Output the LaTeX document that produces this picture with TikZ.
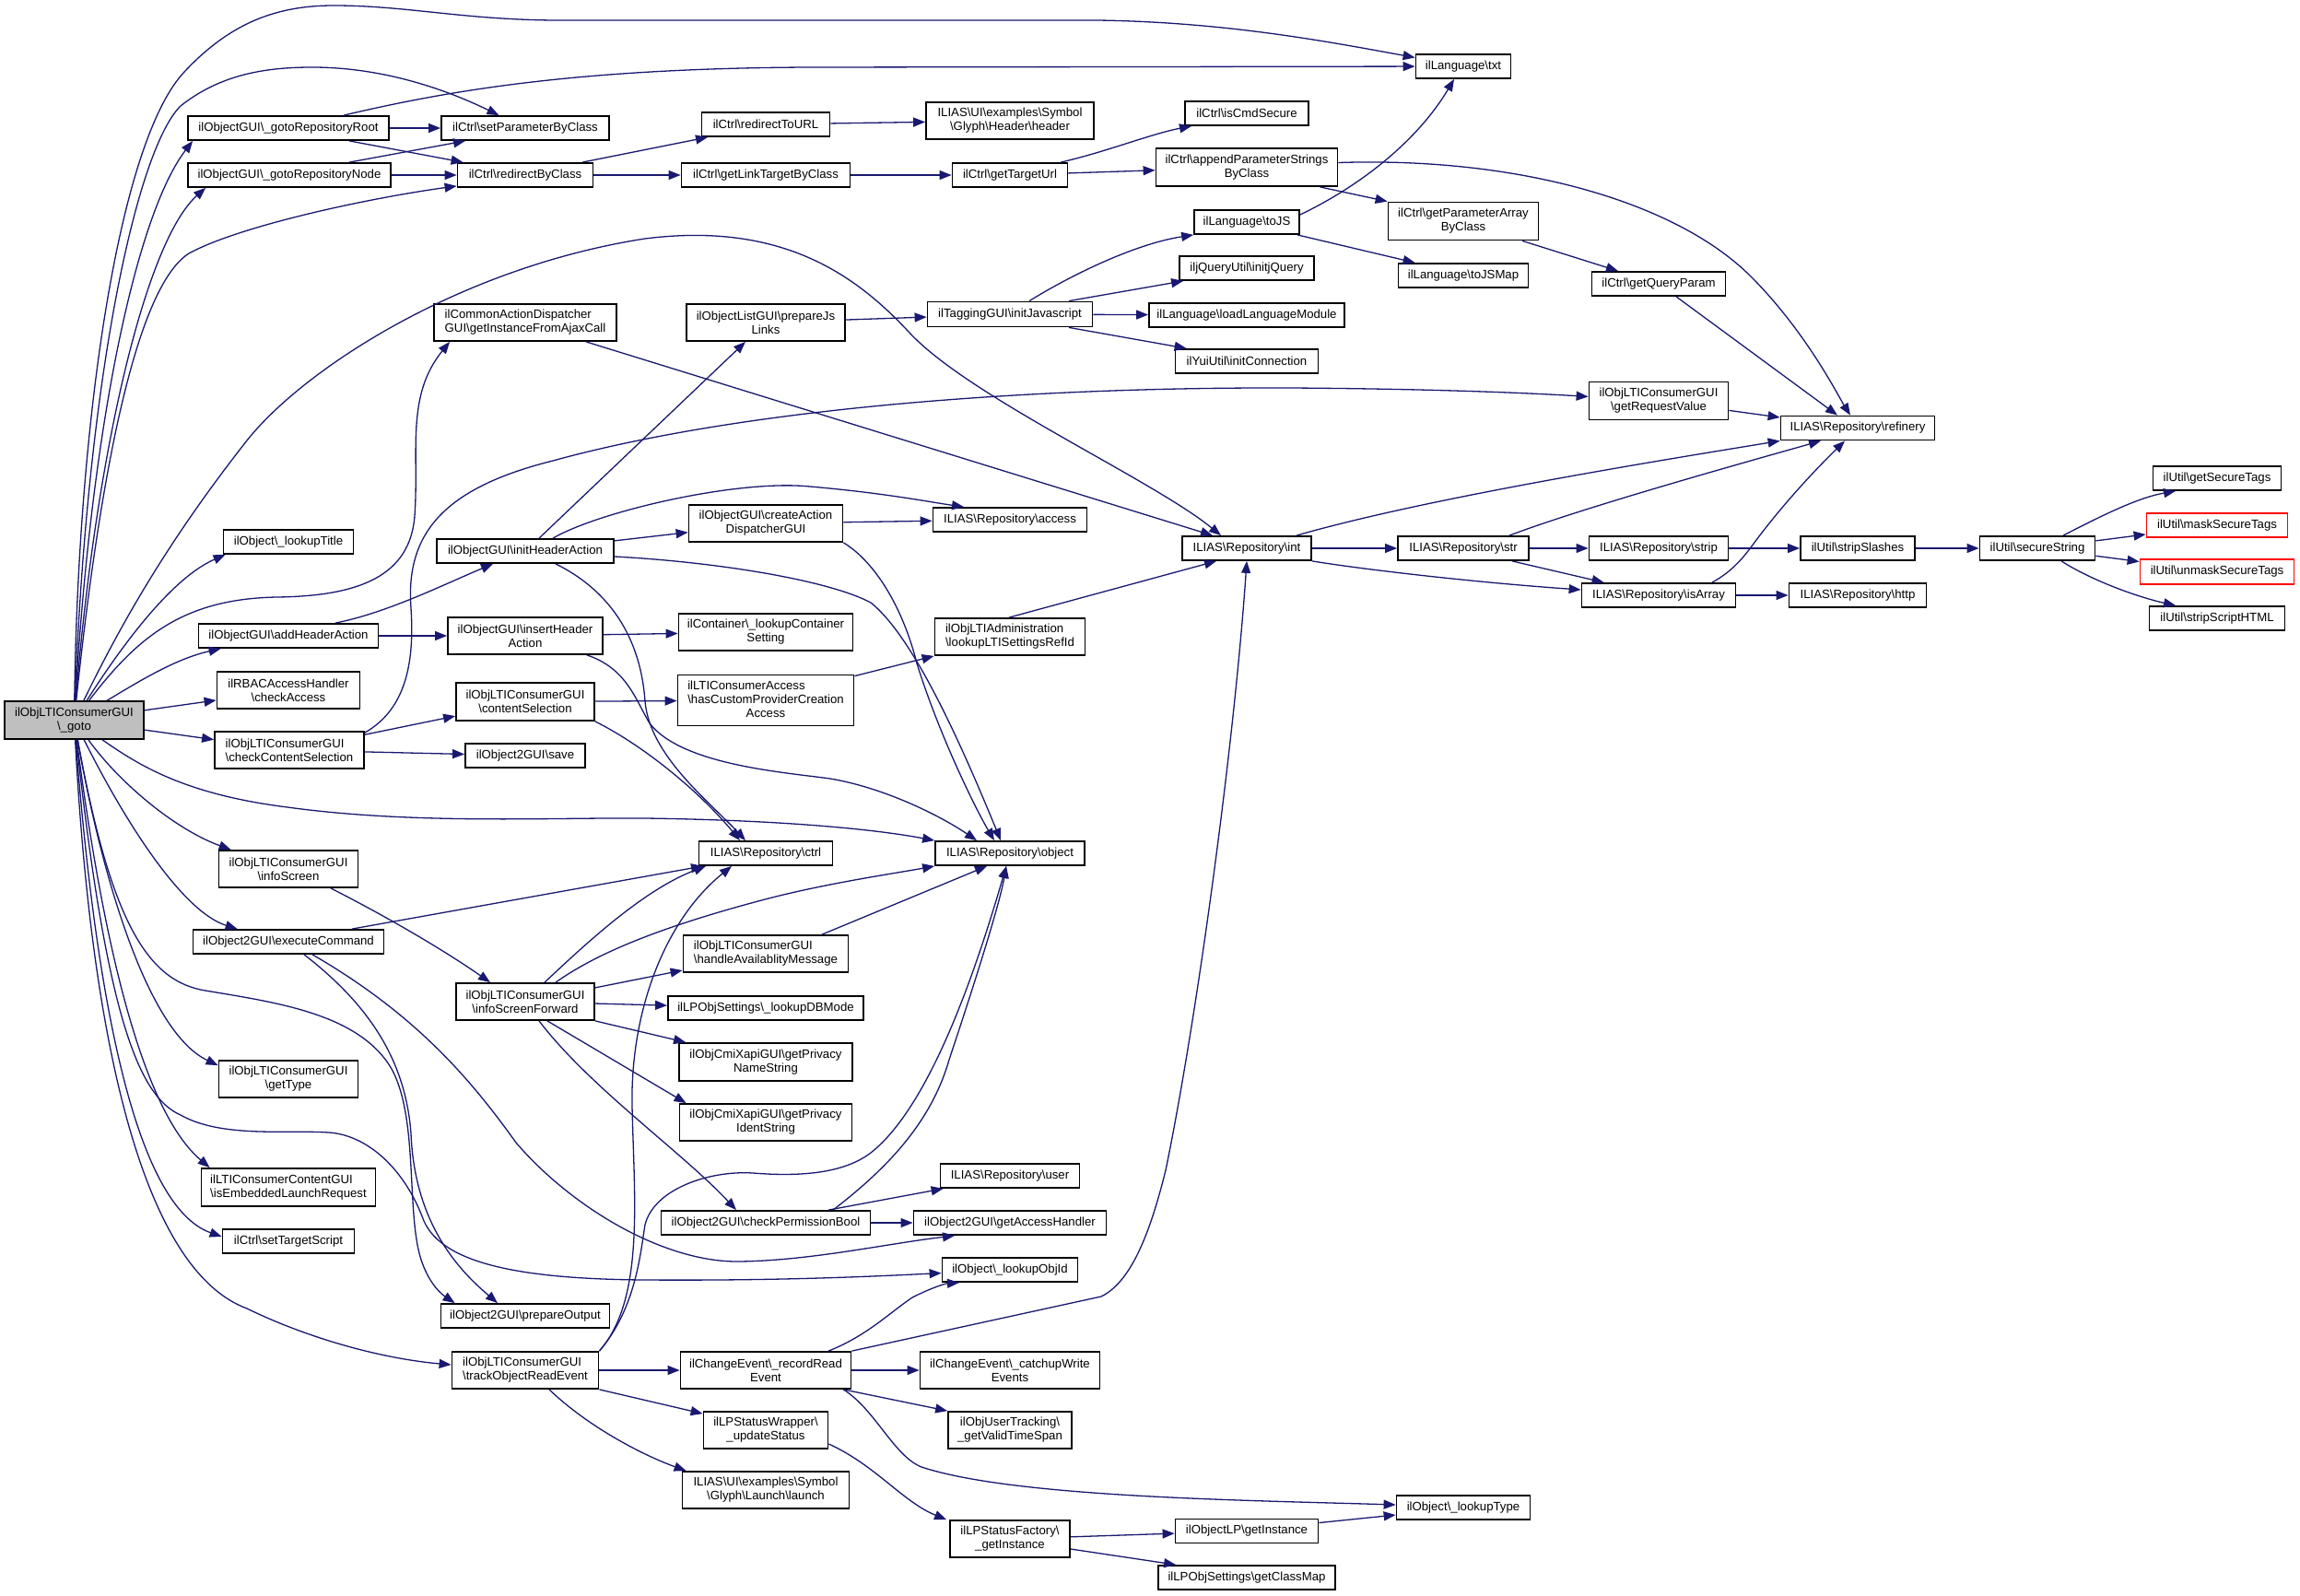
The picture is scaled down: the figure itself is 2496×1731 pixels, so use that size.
\documentclass[tikz,border=0pt]{standalone}
\usepackage{fontspec}
\setmainfont{Liberation Sans}
\usetikzlibrary{arrows.meta}
\definecolor{edgeblue}{HTML}{191970}
\definecolor{mainfill}{HTML}{BFBFBF}
\newcommand{\BS}{\textbackslash}
\tikzset{
  box/.style={draw=black, line width=1.8pt, fill=white, inner sep=0pt,
    font=\fontsize{13.2}{15}\selectfont, align=center},
  redbox/.style={draw=red},
  conn/.style={draw=edgeblue, line width=1.3pt, -{Triangle[length=13pt,width=10pt,fill=edgeblue]}},
}
\newcommand{\gnode}[7][]{\node[box,#1,minimum width=#5pt,minimum height=#6pt] (#2) at (#3,#4) {#7};}
\begin{document}
\begin{tikzpicture}[x=1pt,y=-1pt]
\fill[white] (0,0) rectangle (2496,1731);
\useasboundingbox (0,0) rectangle (2496,1731);
% ---------- nodes ----------
\gnode[fill=mainfill]{goto}{80.5}{781.5}{151}{41}{ilObjLTIConsumerGUI\\\BS\_goto}
\gnode{gRoot}{313}{139}{218}{26}{ilObjectGUI\BS\_gotoRepositoryRoot}
\gnode{setParam}{570}{139}{182}{26}{ilCtrl\BS setParameterByClass}
\gnode{gNode}{314}{190}{220}{26}{ilObjectGUI\BS\_gotoRepositoryNode}
\gnode{redirect}{570}{190}{147}{26}{ilCtrl\BS redirectByClass}
\gnode[align=left]{cad}{570}{350}{198}{40}{ilCommonActionDispatcher\\GUI\BS getInstanceFromAjaxCall}
\gnode{lookupTitle}{313}{588}{141}{26}{ilObject\BS\_lookupTitle}
\gnode{initHA}{570}{598}{192}{26}{ilObjectGUI\BS initHeaderAction}
\gnode{redirectURL}{831}{135}{139}{26}{ilCtrl\BS redirectToURL}
\gnode{header}{1096}{131}{182}{40}{ILIAS\BS UI\BS examples\BS Symbol\\\BS Glyph\BS Header\BS header}
\gnode{getLink}{831}{190}{183}{26}{ilCtrl\BS getLinkTargetByClass}
\gnode{getTarget}{1096}{190}{125}{26}{ilCtrl\BS getTargetUrl}
\gnode{isCmdSecure}{1353}{123}{134}{26}{ilCtrl\BS isCmdSecure}
\gnode{appendPS}{1353}{181.5}{197}{41}{ilCtrl\BS appendParameterStrings\\ByClass}
\gnode{toJS}{1353}{241}{114}{26}{ilLanguage\BS toJS}
\gnode{initjQuery}{1353}{291}{146}{26}{iljQueryUtil\BS initjQuery}
\gnode{loadLang}{1353}{342}{212}{26}{ilLanguage\BS loadLanguageModule}
\gnode{initConn}{1353}{392}{155}{26}{ilYuiUtil\BS initConnection}
\gnode{prepJs}{831}{350}{172}{40}{ilObjectListGUI\BS prepareJs\\Links}
\gnode{initJS}{1096}{341}{179}{27}{ilTaggingGUI\BS initJavascript}
\gnode{createAD}{831}{568}{167}{40}{ilObjectGUI\BS createAction\\DispatcherGUI}
\gnode{access}{1096}{564}{167}{26}{ILIAS\BS Repository\BS access}
\gnode{int}{1353}{595}{140}{26}{ILIAS\BS Repository\BS int}
\gnode{txt}{1588}{72}{103}{26}{ilLanguage\BS txt}
\gnode{getPAB}{1588}{240}{163}{41}{ilCtrl\BS getParameterArray\\ByClass}
\gnode{toJSMap}{1588}{299}{141}{26}{ilLanguage\BS toJSMap}
\gnode{getQP}{1800}{308}{145}{26}{ilCtrl\BS getQueryParam}
\gnode{getReqVal}{1800}{435}{151}{41}{ilObjLTIConsumerGUI\\\BS getRequestValue}
\gnode{refinery}{2016}{464.5}{167}{26}{ILIAS\BS Repository\BS refinery}
\gnode{getSecureTags}{2406}{519}{139}{26}{ilUtil\BS getSecureTags}
\gnode[redbox]{mask}{2406}{570}{153}{26}{ilUtil\BS maskSecureTags}
\gnode{str}{1588}{595}{142}{26}{ILIAS\BS Repository\BS str}
\gnode{strip}{1800}{595}{151}{26}{ILIAS\BS Repository\BS strip}
\gnode{stripSlashes}{2016}{595}{124}{26}{ilUtil\BS stripSlashes}
\gnode{secureString}{2211}{595}{125}{26}{ilUtil\BS secureString}
\gnode[redbox]{unmask}{2406}{620.5}{167}{27}{ilUtil\BS unmaskSecureTags}
\gnode{isArray}{1800}{646}{167}{26}{ILIAS\BS Repository\BS isArray}
\gnode{http}{2016}{646}{149}{26}{ILIAS\BS Repository\BS http}
\gnode{stripScript}{2406}{671}{147}{26}{ilUtil\BS stripScriptHTML}
\gnode{addHA}{313}{690}{195}{26}{ilObjectGUI\BS addHeaderAction}
\gnode{insertHA}{570}{690}{168}{40}{ilObjectGUI\BS insertHeader\\Action}
\gnode{checkAccess}{313}{749}{155}{40}{ilRBACAccessHandler\\\BS checkAccess}
\gnode{contentSel}{570}{761.5}{150}{41}{ilObjLTIConsumerGUI\\\BS contentSelection}
\gnode[align=left]{checkCS}{314}{814}{162}{40}{ilObjLTIConsumerGUI\\\BS checkContentSelection}
\gnode{save}{570}{820}{130}{26}{ilObject2GUI\BS save}
\gnode{infoScreen}{313}{943}{151}{40}{ilObjLTIConsumerGUI\\\BS infoScreen}
\gnode{execCmd}{313}{1022}{207}{26}{ilObject2GUI\BS executeCommand}
\gnode{infoSF}{570}{1087}{150}{40}{ilObjLTIConsumerGUI\\\BS infoScreenForward}
\gnode{getType}{313}{1171}{151}{40}{ilObjLTIConsumerGUI\\\BS getType}
\gnode{lookupCS}{831}{686}{189}{40}{ilContainer\BS\_lookupContainer\\Setting}
\gnode{hasCPCA}{831}{760}{191}{55}{\begin{tabular}{@{}l@{}}ilLTIConsumerAccess\\\BS hasCustomProviderCreation\\\multicolumn{1}{@{}c@{}}{Access}\end{tabular}}
\gnode[align=left]{lookupLTI}{1096}{691}{163}{40}{ilObjLTIAdministration\\\BS lookupLTISettingsRefId}
\gnode{ctrl}{831}{926}{145}{26}{ILIAS\BS Repository\BS ctrl}
\gnode{object}{1096}{926}{162}{26}{ILIAS\BS Repository\BS object}
\gnode[align=left]{handleAM}{831}{1035}{179}{40}{ilObjLTIConsumerGUI\\\BS handleAvailablityMessage}
\gnode{lookupDB}{831}{1094}{212}{26}{ilLPObjSettings\BS\_lookupDBMode}
\gnode{nameStr}{831}{1152.5}{188}{41}{ilObjCmiXapiGUI\BS getPrivacy\\NameString}
\gnode{identStr}{831}{1218}{187}{40}{ilObjCmiXapiGUI\BS getPrivacy\\IdentString}
\gnode[align=left]{isEmb}{313}{1288.5}{189}{41}{ilLTIConsumerContentGUI\\\BS isEmbeddedLaunchRequest}
\gnode{setTarget}{313}{1347}{143}{26}{ilCtrl\BS setTargetScript}
\gnode{prepOut}{570}{1428}{183}{26}{ilObject2GUI\BS prepareOutput}
\gnode[align=left]{trackORE}{570}{1487}{159}{40}{ilObjLTIConsumerGUI\\\BS trackObjectReadEvent}
\gnode{user}{1096}{1276}{151}{26}{ILIAS\BS Repository\BS user}
\gnode{checkPB}{831}{1327}{227}{26}{ilObject2GUI\BS checkPermissionBool}
\gnode{getAH}{1096}{1327}{209}{26}{ilObject2GUI\BS getAccessHandler}
\gnode{lookupObjId}{1096}{1378}{147}{26}{ilObject\BS\_lookupObjId}
\gnode{recordRE}{831}{1487}{185}{40}{ilChangeEvent\BS\_recordRead\\Event}
\gnode{catchup}{1096}{1487}{195}{40}{ilChangeEvent\BS\_catchupWrite\\Events}
\gnode{updateStatus}{831}{1552}{135}{40}{ilLPStatusWrapper\BS\\\_updateStatus}
\gnode{validTS}{1096}{1552}{134}{40}{ilObjUserTracking\BS\\\_getValidTimeSpan}
\gnode{launch}{831}{1617}{181}{40}{ILIAS\BS UI\BS examples\BS Symbol\\\BS Glyph\BS Launch\BS launch}
\gnode{lpsf}{1096}{1670}{130}{40}{ilLPStatusFactory\BS\\\_getInstance}
\gnode{objLP}{1353}{1661.5}{155}{26}{ilObjectLP\BS getInstance}
\gnode{classMap}{1353}{1712}{192}{26}{ilLPObjSettings\BS getClassMap}
\gnode{lookupType}{1588}{1636}{145}{26}{ilObject\BS\_lookupType}
% ---------- edges from goto ----------
\draw[conn] (goto) .. controls (85,450) and (130,150) .. (201,77) .. controls (250,25) and (300,6) .. (362,6) .. controls (440,6) and (500,21) .. (600,22) -- (1191,22) .. controls (1330,24) and (1440,45) .. (txt);
\draw[conn] (goto) .. controls (95,400) and (150,160) .. (196,115) .. controls (240,80) and (290,73) .. (339,73) .. controls (420,73) and (490,100) .. (setParam);
\draw[conn] (goto) .. controls (100,450) and (150,230) .. ([xshift=6pt]gRoot.south west);
\draw[conn] (goto) .. controls (105,480) and (160,260) .. ([xshift=20pt]gNode.south west);
\draw[conn] (goto) .. controls (110,500) and (150,310) .. (205,275) .. controls (260,245) and (400,215) .. ([yshift=2pt]redirect.south west);
\draw[conn] (goto) .. controls (130,680) and (180,590) .. (268,478) .. controls (330,400) and (500,290) .. (700,259) .. controls (850,240) and (930,300) .. (986,360) .. controls (1050,430) and (1250,520) .. ([xshift=-28pt]int.north);
\draw[conn] (goto) .. controls (150,690) and (200,650) .. (300,648) .. controls (390,647) and (445,625) .. (450,560) .. controls (455,490) and (440,430) .. ([xshift=18pt]cad.south west);
\draw[conn] (goto) .. controls (120,720) and (180,630) .. ([xshift=3pt]lookupTitle.south west);
\draw[conn] (goto) .. controls (150,740) and (190,715) .. ([xshift=25pt]addHA.south west);
\draw[conn] (goto) -- (checkAccess);
\draw[conn] (goto) -- (checkCS);
\draw[conn] (goto) .. controls (150,830) and (200,862) .. (312,876) .. controls (450,895) and (600,887) .. (700,888) .. controls (850,890) and (950,900) .. (object.north west);
\draw[conn] (goto) .. controls (130,850) and (190,900) .. ([xshift=14pt]infoScreen.north west);
\draw[conn] (goto) .. controls (140,900) and (200,990) .. ([xshift=49pt]execCmd.north west);
\draw[conn] (goto) .. controls (110,950) and (160,1120) .. ([yshift=-6pt]getType.north west);
\draw[conn] (goto) .. controls (115,1050) and (160,1210) .. ([xshift=10pt]isEmb.north west);
\draw[conn] (goto) .. controls (105,1100) and (150,1310) .. ([yshift=5pt]setTarget.west);
\draw[conn] (goto) .. controls (100,1150) and (160,1380) .. (268,1420) .. controls (340,1455) and (420,1475) .. ([yshift=6pt]trackORE.west);
\draw[conn] (goto) .. controls (120,1000) and (160,1065) .. (223,1075) .. controls (300,1088) and (390,1100) .. (425,1160) .. controls (455,1215) and (440,1320) .. (458,1370) .. controls (467,1395) and (480,1405) .. ([xshift=16pt]prepOut.north west);
\draw[conn] (goto) .. controls (115,1100) and (150,1190) .. (196,1210) .. controls (240,1235) and (310,1226) .. (357,1229) .. controls (400,1232) and (440,1270) .. (460,1325) .. controls (480,1370) and (560,1388) .. (700,1389) .. controls (850,1390) and (950,1385) .. (lookupObjId);
% ---------- upper part ----------
\draw[conn] (gRoot) -- (setParam);
\draw[conn] ([xshift=66pt]gRoot.south) -- ([xshift=7pt]redirect.north west);
\draw[conn] ([xshift=60pt]gRoot.north) .. controls (480,100) and (620,74) .. (879,73) -- (txt);
\draw[conn] ([xshift=65pt]gNode.north) -- ([xshift=-65pt]setParam.south);
\draw[conn] (gNode) -- (redirect);
\draw[conn] ([xshift=62pt]redirect.north) -- ([xshift=-63pt]redirectURL.south);
\draw[conn] (redirect) -- (getLink);
\draw[conn] (redirectURL) -- (header);
\draw[conn] (getLink) -- (getTarget);
\draw[conn] ([xshift=55pt]getTarget.north) .. controls (1200,165) and (1250,145) .. ([xshift=-60pt]isCmdSecure.south);
\draw[conn] (getTarget) -- (appendPS);
\draw[conn] ([xshift=-20pt]appendPS.south east) -- (getPAB.north west);
\draw[conn] ([yshift=5pt]appendPS.east) .. controls (1650,170) and (1820,220) .. (1900,300) .. controls (1960,360) and (1995,430) .. ([xshift=-8pt]refinery.north);
\draw[conn] ([xshift=64pt]getPAB.south) -- ([xshift=-44pt]getQP.north);
\draw[conn] ([xshift=19pt]getQP.south) -- ([xshift=-22pt]refinery.north);
\draw[conn] (getReqVal) -- (refinery);
\draw[conn] ([yshift=8pt]toJS.east) .. controls (1480,200) and (1540,150) .. ([xshift=-10pt]txt.south);
\draw[conn] ([xshift=-3pt]toJS.south east) -- ([xshift=19pt]toJSMap.north west);
\draw[conn] (prepJs) -- (initJS);
\draw[conn] ([xshift=21pt]initJS.north) .. controls (1160,300) and (1230,265) .. (toJS.south west);
\draw[conn] ([xshift=64pt]initJS.north) -- ([xshift=5pt]initjQuery.south west);
\draw[conn] (initJS) -- (loadLang);
\draw[conn] ([xshift=64pt]initJS.south) -- ([xshift=13pt]initConn.north west);
\draw[conn] ([xshift=15pt]initHA.north) -- ([xshift=-22pt]prepJs.south);
\draw[conn] ([xshift=30pt]initHA.north) .. controls (650,555) and (800,520) .. (879,528) .. controls (960,535) and (1010,545) .. ([xshift=-50pt]access.north);
\draw[conn] (initHA) -- (createAD);
\draw[conn] (createAD) -- (access);
\draw[conn] (createAD.south east) .. controls (950,610) and (980,660) .. (995,720) .. controls (1020,800) and (1060,880) .. ([xshift=-17pt]object.north);
\draw[conn] ([yshift=-6pt]initHA.east) .. controls (780,610) and (900,630) .. (945,654) .. controls (990,690) and (1040,800) .. ([xshift=-10pt]object.north);
\draw[conn] ([xshift=33pt]initHA.south) .. controls (660,640) and (695,690) .. (700,761) .. controls (705,820) and (770,870) .. ([xshift=-22pt]ctrl.north);
\draw[conn] ([xshift=51pt]addHA.north) .. controls (420,665) and (480,635) .. ([xshift=-35pt]initHA.south);
\draw[conn] (addHA) -- (insertHA);
\draw[conn] (insertHA) -- (lookupCS);
\draw[conn] ([xshift=-18pt]insertHA.south east) .. controls (680,725) and (690,760) .. (705,785) .. controls (740,830) and (850,838) .. (901,845) .. controls (960,855) and (1020,885) .. ([xshift=-36pt]object.north);
\draw[conn] (contentSel) -- (hasCPCA);
\draw[conn] (contentSel.south east) .. controls (700,810) and (760,860) .. ([xshift=-28pt]ctrl.north);
\draw[conn] ([yshift=-2pt]hasCPCA.north east) -- (lookupLTI.south west);
\draw[conn] ([xshift=-1pt]lookupLTI.north) -- ([xshift=-33pt]int.south);
\draw[conn] (checkCS) -- (contentSel);
\draw[conn] (checkCS) -- (save);
\draw[conn] ([yshift=-2pt]checkCS.north east) .. controls (440,770) and (450,720) .. (446,660) .. controls (440,580) and (480,530) .. (600,500) .. controls (800,445) and (1100,420) .. (1400,421) .. controls (1550,422) and (1650,426) .. (getReqVal);
\draw[conn] ([xshift=66pt]cad.south) -- ([xshift=-37pt]int.north);
% ---------- middle / lower part ----------
\draw[conn] ([xshift=69pt]execCmd.north) -- ([xshift=-68pt]ctrl.south);
\draw[conn] ([xshift=17pt]execCmd.south) .. controls (400,1090) and (440,1150) .. (446,1230) .. controls (450,1330) and (500,1380) .. ([xshift=-30pt]prepOut.north);
\draw[conn] ([xshift=26pt]execCmd.south) .. controls (450,1100) and (510,1170) .. (560,1240) .. controls (620,1310) and (720,1370) .. (802,1369) .. controls (880,1368) and (960,1350) .. ([xshift=-60pt]getAH.south);
\draw[conn] ([xshift=46pt]infoScreen.south) .. controls (420,995) and (480,1030) .. ([xshift=-38pt]infoSF.north);
\draw[conn] ([xshift=21pt]infoSF.north) .. controls (640,1020) and (700,965) .. ([xshift=-65pt]ctrl.south);
\draw[conn] ([xshift=33pt]infoSF.north) .. controls (640,1040) and (700,1010) .. (834,975) .. controls (900,958) and (970,948) .. (object.south west);
\draw[conn] (infoSF) -- (handleAM);
\draw[conn] (infoSF) -- (lookupDB);
\draw[conn] (infoSF.south east) -- ([xshift=8pt]nameStr.north west);
\draw[conn] ([xshift=24pt]infoSF.south) -- ([xshift=8pt]identStr.north west);
\draw[conn] ([xshift=15pt]infoSF.south) .. controls (640,1180) and (740,1250) .. ([xshift=-32pt]checkPB.north);
\draw[conn] ([xshift=61pt]handleAM.north) -- ([xshift=-25pt]object.south);
\draw[conn] ([xshift=68pt]checkPB.north) -- ([xshift=4pt]user.south west);
\draw[conn] (checkPB) -- (getAH);
\draw[conn] ([xshift=73pt]checkPB.north) .. controls (960,1270) and (1010,1220) .. (1030,1150) .. controls (1060,1060) and (1085,980) .. ([xshift=-4pt]object.south);
\draw[conn] (trackORE.north east) .. controls (690,1420) and (695,1360) .. (700,1329) .. controls (710,1290) and (770,1270) .. (817,1273) .. controls (880,1278) and (920,1270) .. (945,1251) .. controls (1010,1200) and (1060,1050) .. ([xshift=-4pt]object.south);
\draw[conn] (trackORE.north east) .. controls (700,1410) and (688,1300) .. (686,1200) .. controls (684,1100) and (720,1000) .. ([xshift=-37pt]ctrl.south);
\draw[conn] (trackORE) -- (recordRE);
\draw[conn] (trackORE.south east) -- ([yshift=-3pt]updateStatus.north west);
\draw[conn] ([xshift=26pt]trackORE.south) .. controls (640,1550) and (700,1580) .. ([xshift=5pt]launch.north west);
\draw[conn] ([xshift=68pt]recordRE.north) .. controls (940,1450) and (965,1425) .. (990,1408) .. controls (1010,1398) and (1025,1393) .. ([xshift=-55pt]lookupObjId.south);
\draw[conn] (recordRE.north east) -- (1195,1407) .. controls (1230,1390) and (1250,1330) .. (1265,1270) .. controls (1300,1100) and (1340,800) .. (int.south);
\draw[conn] (recordRE) -- (catchup);
\draw[conn] ([xshift=-9pt]recordRE.south east) -- (validTS.north west);
\draw[conn] ([xshift=-9pt]recordRE.south east) .. controls (950,1530) and (970,1580) .. (1000,1592) .. controls (1100,1625) and (1350,1628) .. ([yshift=3pt]lookupType.west);
\draw[conn] ([yshift=-15pt]updateStatus.east) .. controls (950,1590) and (980,1630) .. ([xshift=-3pt]lpsf.north west);
\draw[conn] (lpsf) -- (objLP);
\draw[conn] ([yshift=-11pt]lpsf.east) -- ([xshift=20pt]classMap.north west);
\draw[conn] ([yshift=9pt]objLP.east) -- ([yshift=-8pt]lookupType.west);
% ---------- right part ----------
\draw[conn] ([xshift=54pt]int.north) .. controls (1550,540) and (1800,500) .. (refinery.south west);
\draw[conn] (int) -- (str);
\draw[conn] (int.south east) .. controls (1480,618) and (1600,632) .. ([yshift=6pt]isArray.west);
\draw[conn] ([xshift=50pt]str.north) .. controls (1720,550) and (1900,500) .. ([xshift=-40pt]refinery.south);
\draw[conn] (str) -- (strip);
\draw[conn] ([xshift=53pt]str.south) -- ([xshift=25pt]isArray.north west);
\draw[conn] (strip) -- (stripSlashes);
\draw[conn] ([xshift=58pt]isArray.north) .. controls (1880,620) and (1892,605) .. (1903,590) .. controls (1940,540) and (1980,500) .. ([xshift=-14pt]refinery.south);
\draw[conn] (isArray) -- (http);
\draw[conn] (stripSlashes) -- (secureString);
\draw[conn] ([xshift=28pt]secureString.north) .. controls (2280,560) and (2320,540) .. ([xshift=-45pt]getSecureTags.south);
\draw[conn] (secureString) -- (mask);
\draw[conn] (secureString) -- (unmask);
\draw[conn] ([xshift=26pt]secureString.south) .. controls (2270,630) and (2320,648) .. ([xshift=-45pt]stripScript.north);
\end{tikzpicture}
\end{document}
